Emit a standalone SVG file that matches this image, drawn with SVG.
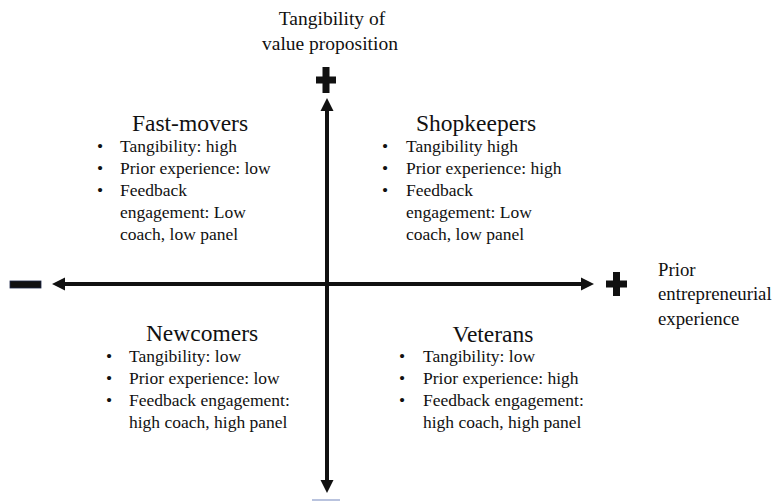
<svg xmlns="http://www.w3.org/2000/svg" width="775" height="501" viewBox="0 0 775 501">
<defs>
<style>
text { font-family: "Liberation Serif", "Times New Roman", serif; fill: #111; }
.lab { font-size: 19.5px; }
.rlab { font-size: 18.8px; }
.title { font-size: 23.5px; text-anchor: middle; }
.item { font-size: 17.5px; }
.axis { stroke: #111; stroke-width: 4; fill: none; }
.sign { fill: #111; }
</style>
<marker id="arr" markerUnits="userSpaceOnUse" markerWidth="14" markerHeight="14" refX="3" refY="7" orient="auto-start-reverse">
<path d="M0,0.5 L13,7 L0,13.5 Z" fill="#111"/>
</marker>
</defs>
<rect width="775" height="501" fill="#fff"/>

<g id="connectors">
<line class="axis" x1="327" y1="108" x2="327" y2="483" marker-start="url(#arr)" marker-end="url(#arr)"/>
<line class="axis" x1="62" y1="284" x2="584" y2="284" marker-start="url(#arr)" marker-end="url(#arr)"/>
</g>

<g id="signs">
<rect class="sign" x="322.5" y="67" width="7" height="26"/>
<rect class="sign" x="316" y="76.5" width="20" height="7"/>
<rect class="sign" x="613" y="272" width="7" height="24"/>
<rect class="sign" x="606" y="280.5" width="21" height="7"/>
<rect x="10" y="281" width="31" height="7" fill="#111" stroke="#1c2748" stroke-width="0.8"/>
<rect x="312" y="499" width="28" height="2" fill="#b9c3de"/>
</g>

<g id="y-axis-label">
<text class="lab" x="332" y="25" text-anchor="middle">Tangibility of</text>
<text class="lab" x="330" y="50" text-anchor="middle">value proposition</text>
</g>

<g id="x-axis-label">
<text class="rlab" x="658" y="276">Prior</text>
<text class="rlab" x="658" y="300">entrepreneurial</text>
<text class="rlab" x="658" y="325">experience</text>
</g>

<g id="fast-movers">
<text class="title" x="190" y="131">Fast-movers</text>
<text class="item" x="97" y="152">•</text>
<text class="item" x="120" y="152">Tangibility: high</text>
<text class="item" x="97" y="174">•</text>
<text class="item" x="120" y="174">Prior experience: low</text>
<text class="item" x="97" y="196">•</text>
<text class="item" x="120" y="196">Feedback</text>
<text class="item" x="120" y="218">engagement: Low</text>
<text class="item" x="120" y="240">coach, low panel</text>
</g>

<g id="shopkeepers">
<text class="title" x="476" y="131">Shopkeepers</text>
<text class="item" x="382" y="152">•</text>
<text class="item" x="406" y="152">Tangibility high</text>
<text class="item" x="382" y="174">•</text>
<text class="item" x="406" y="174">Prior experience: high</text>
<text class="item" x="382" y="196">•</text>
<text class="item" x="406" y="196">Feedback</text>
<text class="item" x="406" y="218">engagement: Low</text>
<text class="item" x="406" y="240">coach, low panel</text>
</g>

<g id="newcomers">
<text class="title" x="202" y="341">Newcomers</text>
<text class="item" x="106" y="362">•</text>
<text class="item" x="129" y="362">Tangibility: low</text>
<text class="item" x="106" y="384">•</text>
<text class="item" x="129" y="384">Prior experience: low</text>
<text class="item" x="106" y="406">•</text>
<text class="item" x="129" y="406">Feedback engagement:</text>
<text class="item" x="129" y="428">high coach, high panel</text>
</g>

<g id="veterans">
<text class="title" x="493" y="342">Veterans</text>
<text class="item" x="399" y="362">•</text>
<text class="item" x="423" y="362">Tangibility: low</text>
<text class="item" x="399" y="384">•</text>
<text class="item" x="423" y="384">Prior experience: high</text>
<text class="item" x="399" y="406">•</text>
<text class="item" x="423" y="406">Feedback engagement:</text>
<text class="item" x="423" y="428">high coach, high panel</text>
</g>
</svg>
